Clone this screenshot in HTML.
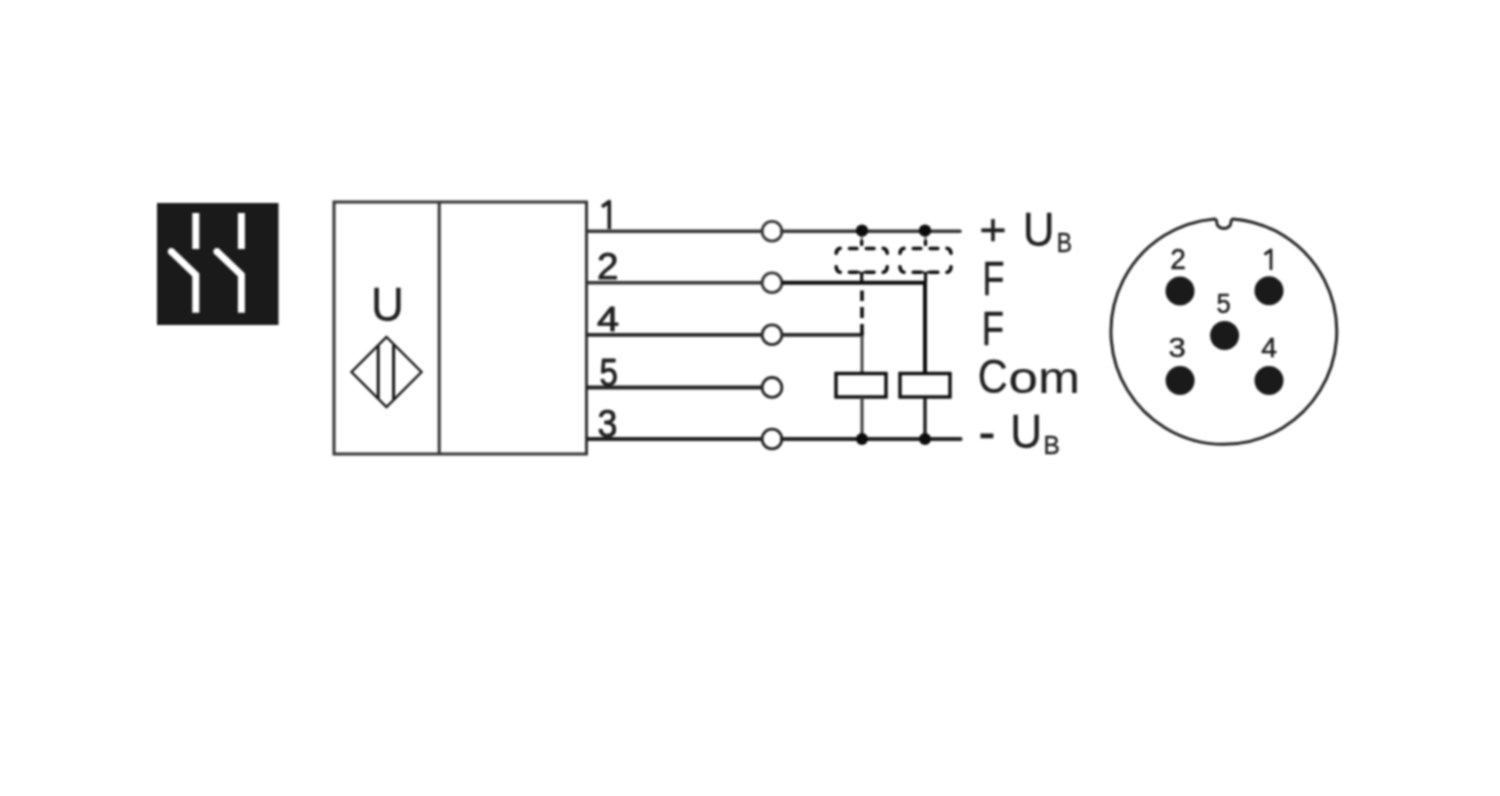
<!DOCTYPE html>
<html><head><meta charset="utf-8"><style>
html,body{margin:0;padding:0;background:#fff;width:1500px;height:796px;overflow:hidden}
svg{display:block;font-family:"Liberation Sans",sans-serif}
</style></head><body>
<svg width="1500" height="796" viewBox="0 0 1500 796">
<defs><filter id="bl" filterUnits="userSpaceOnUse" x="0" y="0" width="1500" height="796" color-interpolation-filters="sRGB"><feConvolveMatrix order="5" kernelMatrix="0.00615 0.01911 0.02789 0.01911 0.00615 0.01911 0.05941 0.08670 0.05941 0.01911 0.02789 0.08670 0.12654 0.08670 0.02789 0.01911 0.05941 0.08670 0.05941 0.01911 0.00615 0.01911 0.02789 0.01911 0.00615" edgeMode="none" preserveAlpha="false"/></filter></defs><g filter="url(#bl)"><rect x="0" y="0" width="1500" height="796" fill="#fff"/>
<rect x="157" y="203" width="121.5" height="122" fill="#1a1a1a"/>
<line x1="195.8" y1="213" x2="195.8" y2="249" stroke="#fff" stroke-width="7"/>
<polyline points="171.3,251.4 195.8,275.1 195.8,312.7" fill="none" stroke="#fff" stroke-width="7" stroke-linejoin="miter"/>
<circle cx="171.3" cy="251.4" r="3.5" fill="#fff"/>
<line x1="241.4" y1="213" x2="241.4" y2="249" stroke="#fff" stroke-width="7"/>
<polyline points="216.9,251.4 241.4,275.1 241.4,312.7" fill="none" stroke="#fff" stroke-width="7" stroke-linejoin="miter"/>
<circle cx="216.9" cy="251.4" r="3.5" fill="#fff"/>
<rect x="334" y="202" width="252.5" height="252" fill="none" stroke="#333" stroke-width="3.0"/>
<line x1="439.2" y1="202" x2="439.2" y2="454" stroke="#333" stroke-width="3.0"/>
<polygon points="386.5,337 421.5,372 386.5,407 351.5,372" fill="none" stroke="#151515" stroke-width="2.4"/>
<line x1="378.2" y1="345.5" x2="378.2" y2="398.5" stroke="#151515" stroke-width="3.0"/>
<line x1="393.6" y1="345" x2="393.6" y2="399" stroke="#151515" stroke-width="3.0"/>
<line x1="586.5" y1="231.2" x2="762.1" y2="231.2" stroke="#333" stroke-width="3.6"/>
<circle cx="772" cy="231.2" r="9.9" fill="#fff" stroke="#333" stroke-width="2.8"/>
<line x1="586.5" y1="282.7" x2="762.1" y2="282.7" stroke="#333" stroke-width="3.6"/>
<circle cx="772" cy="282.7" r="9.9" fill="#fff" stroke="#333" stroke-width="2.8"/>
<line x1="586.5" y1="334.8" x2="762.1" y2="334.8" stroke="#262626" stroke-width="3.8"/>
<circle cx="772" cy="334.8" r="9.9" fill="#fff" stroke="#262626" stroke-width="2.8"/>
<line x1="586.5" y1="387.4" x2="762.1" y2="387.4" stroke="#222" stroke-width="4.0"/>
<circle cx="772" cy="387.4" r="9.9" fill="#fff" stroke="#222" stroke-width="2.8"/>
<line x1="586.5" y1="439.0" x2="762.1" y2="439.0" stroke="#222" stroke-width="4.0"/>
<circle cx="772" cy="439.0" r="9.9" fill="#fff" stroke="#222" stroke-width="2.8"/>
<line x1="781.9" y1="231.2" x2="960" y2="231.2" stroke="#333" stroke-width="3.6" stroke-linecap="round"/>
<line x1="781.9" y1="439.0" x2="960.5" y2="439.0" stroke="#222" stroke-width="4.2" stroke-linecap="round"/>
<polyline points="781.9,282.7 925,282.7 925,373.5" fill="none" stroke="#0c0c0c" stroke-width="4.0"/>
<line x1="781.9" y1="334.8" x2="863.5" y2="334.8" stroke="#262626" stroke-width="3.8"/>
<line x1="862" y1="333.3" x2="862" y2="373.5" stroke="#3a3a3a" stroke-width="2.8"/>
<line x1="862" y1="290.5" x2="862" y2="301" stroke="#0c0c0c" stroke-width="3.6"/>
<line x1="862" y1="307" x2="862" y2="318" stroke="#0c0c0c" stroke-width="3.6"/>
<line x1="862" y1="324" x2="862" y2="335" stroke="#0c0c0c" stroke-width="3.6"/>
<rect x="836" y="373.5" width="50" height="23.5" fill="#fff" stroke="#0c0c0c" stroke-width="3.4"/>
<rect x="900" y="373.5" width="50" height="23.5" fill="#fff" stroke="#0c0c0c" stroke-width="3.4"/>
<line x1="862" y1="397" x2="862" y2="439" stroke="#3a3a3a" stroke-width="3.0"/>
<circle cx="862" cy="439" r="6.0" fill="#0c0c0c"/>
<circle cx="862" cy="230.6" r="6.2" fill="#0c0c0c"/>
<line x1="925" y1="397" x2="925" y2="439" stroke="#1a1a1a" stroke-width="3.4"/>
<circle cx="925" cy="439" r="6.0" fill="#0c0c0c"/>
<circle cx="925" cy="230.6" r="6.2" fill="#0c0c0c"/>
<path d="M836.2,253.2 Q836.6,248.8 840.2,248.3" stroke="#0c0c0c" stroke-width="3.6" fill="none" stroke-linecap="round"/>
<path d="M883.2,248.3 Q886.8,248.8 887.2,253.2" stroke="#0c0c0c" stroke-width="3.6" fill="none" stroke-linecap="round"/>
<path d="M836.2,266.8 Q836.6,271.6 840.2,272.2" stroke="#0c0c0c" stroke-width="3.6" fill="none" stroke-linecap="round"/>
<path d="M883.2,272.2 Q886.8,271.6 887.2,266.8" stroke="#0c0c0c" stroke-width="3.6" fill="none" stroke-linecap="round"/>
<line x1="849.5" y1="248.5" x2="857" y2="248.5" stroke="#0c0c0c" stroke-width="3.6" fill="none" stroke-linecap="round"/>
<line x1="866.3" y1="248.5" x2="874" y2="248.5" stroke="#0c0c0c" stroke-width="3.6" fill="none" stroke-linecap="round"/>
<line x1="849.5" y1="272.2" x2="857" y2="272.2" stroke="#0c0c0c" stroke-width="3.6" fill="none" stroke-linecap="round"/>
<line x1="866.3" y1="272.2" x2="874" y2="272.2" stroke="#0c0c0c" stroke-width="3.6" fill="none" stroke-linecap="round"/>
<line x1="861.7" y1="236" x2="861.7" y2="241" stroke="#555" stroke-width="1.8"/>
<line x1="861.7" y1="241.2" x2="861.7" y2="244.6" stroke="#0c0c0c" stroke-width="3.4" stroke-linecap="round"/>
<path d="M857.7,271.9 Q861.7,272.3 861.7,275.5 Q861.7,272.3 865.7,271.9" fill="none" stroke="#0c0c0c" stroke-width="2.2"/>
<line x1="861.7" y1="274" x2="861.7" y2="282" stroke="#0c0c0c" stroke-width="3.2"/>
<path d="M900.0,253.2 Q900.4,248.8 904.0,248.3" stroke="#0c0c0c" stroke-width="3.6" fill="none" stroke-linecap="round"/>
<path d="M947.0,248.3 Q950.5999999999999,248.8 951.0,253.2" stroke="#0c0c0c" stroke-width="3.6" fill="none" stroke-linecap="round"/>
<path d="M900.0,266.8 Q900.4,271.6 904.0,272.2" stroke="#0c0c0c" stroke-width="3.6" fill="none" stroke-linecap="round"/>
<path d="M947.0,272.2 Q950.5999999999999,271.6 951.0,266.8" stroke="#0c0c0c" stroke-width="3.6" fill="none" stroke-linecap="round"/>
<line x1="913.3" y1="248.5" x2="920.8" y2="248.5" stroke="#0c0c0c" stroke-width="3.6" fill="none" stroke-linecap="round"/>
<line x1="930.0999999999999" y1="248.5" x2="937.8" y2="248.5" stroke="#0c0c0c" stroke-width="3.6" fill="none" stroke-linecap="round"/>
<line x1="913.3" y1="272.2" x2="920.8" y2="272.2" stroke="#0c0c0c" stroke-width="3.6" fill="none" stroke-linecap="round"/>
<line x1="930.0999999999999" y1="272.2" x2="937.8" y2="272.2" stroke="#0c0c0c" stroke-width="3.6" fill="none" stroke-linecap="round"/>
<line x1="925.5" y1="236" x2="925.5" y2="241" stroke="#555" stroke-width="1.8"/>
<line x1="925.5" y1="241.2" x2="925.5" y2="244.6" stroke="#0c0c0c" stroke-width="3.4" stroke-linecap="round"/>
<path d="M921.5,271.9 Q925.5,272.3 925.5,275.5 Q925.5,272.3 929.5,271.9" fill="none" stroke="#0c0c0c" stroke-width="2.2"/>
<line x1="925.5" y1="274" x2="925.5" y2="282" stroke="#0c0c0c" stroke-width="3.2"/>
<path d="M1214.6,218.9 A112.9,112.9 0 1,0 1233.1,218.9 Q1230.9,219.6 1230.9,222.8 A7.05,5.6 0 0,1 1216.8,222.8 Q1216.8,219.6 1214.6,218.9 Z" fill="none" stroke="#262626" stroke-width="3.0" stroke-linejoin="round"/>
<circle cx="1180" cy="291" r="14.5" fill="#1a1a1a"/>
<circle cx="1269" cy="290.7" r="14.5" fill="#1a1a1a"/>
<circle cx="1224.6" cy="335.4" r="14.5" fill="#1a1a1a"/>
<circle cx="1180.1" cy="380.6" r="14.5" fill="#1a1a1a"/>
<circle cx="1269" cy="380.4" r="14.5" fill="#1a1a1a"/>
<path d="M609.3,229 L609.3,201.5 L602,206.8" fill="none" stroke="#1e1e1e" stroke-width="3.6" stroke-linejoin="round"/>
<text transform="translate(597.02,279.05) scale(0.3868,0.3729)" font-size="100" fill="#1e1e1e" stroke="#1e1e1e" stroke-width="2.37" stroke-linejoin="round">2</text>
<text transform="translate(596.96,330.85) scale(0.3980,0.3507)" font-size="100" fill="#1e1e1e" stroke="#1e1e1e" stroke-width="2.40" stroke-linejoin="round">4</text>
<text transform="translate(599.53,385.67) scale(0.3305,0.3829)" font-size="100" fill="#1e1e1e" stroke="#1e1e1e" stroke-width="2.52" stroke-linejoin="round">5</text>
<text transform="translate(597.52,436.67) scale(0.3574,0.3817)" font-size="100" fill="#1e1e1e" stroke="#1e1e1e" stroke-width="2.44" stroke-linejoin="round">3</text>
<text transform="translate(371.03,320.66) scale(0.4561,0.4857)" font-size="100" fill="#1e1e1e" stroke="#1e1e1e" stroke-width="0.64" stroke-linejoin="round">U</text>
<text transform="translate(979.15,244.57) scale(0.4701,0.4408)" font-size="100" fill="#1e1e1e" stroke="#1e1e1e" stroke-width="0.88" stroke-linejoin="round">+</text>
<text transform="translate(1022.65,246.17) scale(0.4404,0.4757)" font-size="100" fill="#1e1e1e" stroke="#1e1e1e" stroke-width="0.65" stroke-linejoin="round">U</text>
<text transform="translate(1056.66,251.80) scale(0.2299,0.2841)" font-size="100" fill="#1e1e1e" stroke="#1e1e1e" stroke-width="1.56" stroke-linejoin="round">B</text>
<text transform="translate(982.23,295.35) scale(0.3653,0.4870)" font-size="100" fill="#1e1e1e" stroke="#1e1e1e" stroke-width="0.70" stroke-linejoin="round">F</text>
<text transform="translate(981.83,345.05) scale(0.3653,0.4884)" font-size="100" fill="#1e1e1e" stroke="#1e1e1e" stroke-width="0.70" stroke-linejoin="round">F</text>
<text transform="translate(977.82,392.91) scale(0.4159,0.4873)" font-size="100" fill="#1e1e1e" stroke="#1e1e1e" stroke-width="0.44" stroke-linejoin="round">C</text>
<text transform="translate(1008.59,392.96) scale(0.5284,0.4418)" font-size="100" fill="#1e1e1e" stroke="#1e1e1e" stroke-width="0.41" stroke-linejoin="round">o</text>
<text transform="translate(1038.25,393.00) scale(0.5000,0.4426)" font-size="100" fill="#1e1e1e" stroke="#1e1e1e" stroke-width="0.42" stroke-linejoin="round">m</text>
<text transform="translate(978.62,450.78) scale(0.5061,0.5500)" font-size="100" fill="#1e1e1e" stroke="#1e1e1e" stroke-width="0.76" stroke-linejoin="round">-</text>
<text transform="translate(1010.23,448.37) scale(0.4421,0.4757)" font-size="100" fill="#1e1e1e" stroke="#1e1e1e" stroke-width="0.65" stroke-linejoin="round">U</text>
<text transform="translate(1043.44,453.60) scale(0.2449,0.2580)" font-size="100" fill="#1e1e1e" stroke="#1e1e1e" stroke-width="1.59" stroke-linejoin="round">B</text>
<text transform="translate(1170.14,269.25) scale(0.2813,0.2857)" font-size="100" fill="#1e1e1e" stroke="#1e1e1e" stroke-width="1.76" stroke-linejoin="round">2</text>
<text transform="translate(1216.43,312.88) scale(0.2547,0.2700)" font-size="100" fill="#1e1e1e" stroke="#1e1e1e" stroke-width="1.91" stroke-linejoin="round">5</text>
<text transform="translate(1168.51,357.17) scale(0.3106,0.2761)" font-size="100" fill="#1e1e1e" stroke="#1e1e1e" stroke-width="1.70" stroke-linejoin="round">3</text>
<text transform="translate(1261.34,357.45) scale(0.2840,0.2696)" font-size="100" fill="#1e1e1e" stroke="#1e1e1e" stroke-width="1.81" stroke-linejoin="round">4</text>
<path d="M1271,270 L1271,249.8 L1264.5,254.5" fill="none" stroke="#1e1e1e" stroke-width="2.8" stroke-linejoin="round"/>
</g></svg>
</body></html>
